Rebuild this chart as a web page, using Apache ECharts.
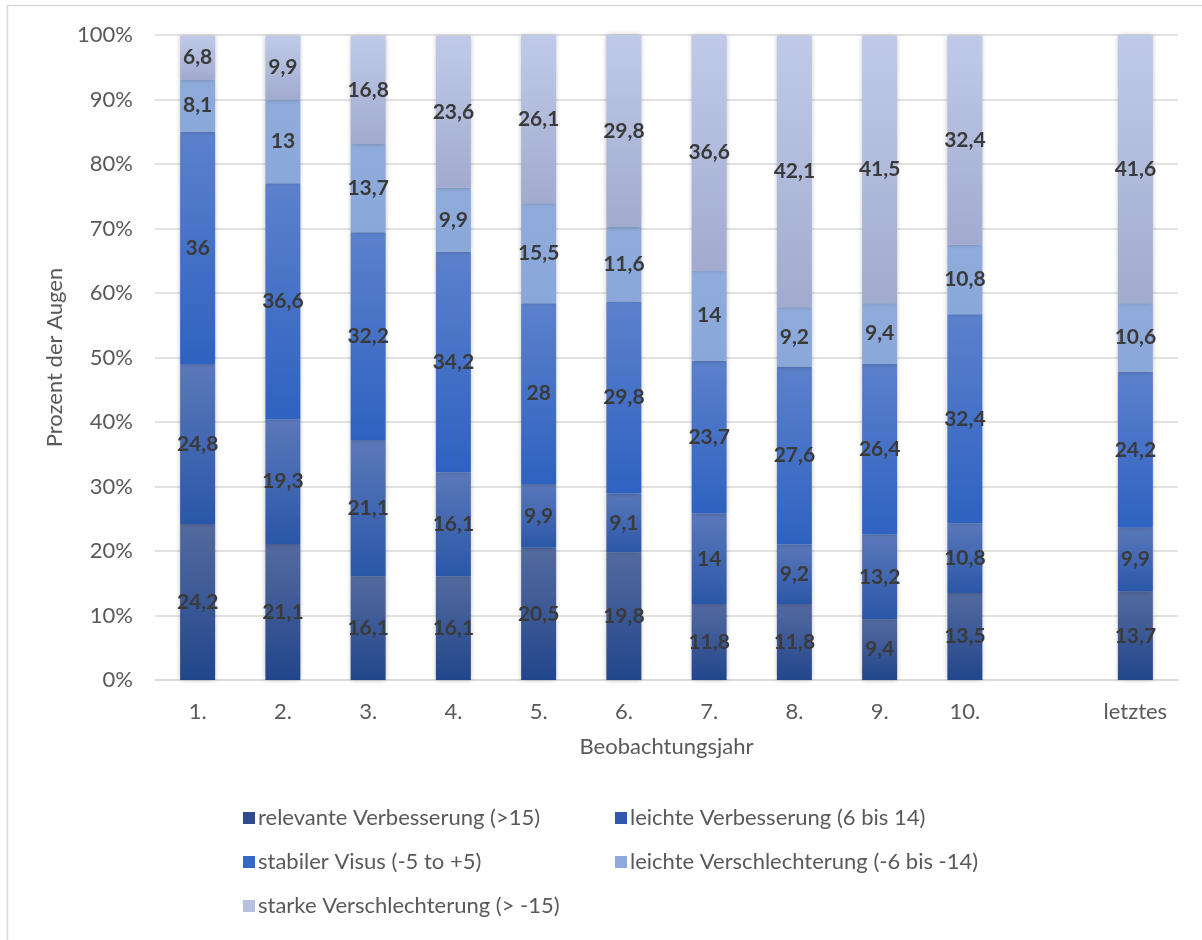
<!DOCTYPE html>
<html>
<head>
<meta charset="utf-8">
<script src="https://cdn.jsdelivr.net/npm/echarts@6/dist/echarts.min.js"></script>
<style>
  html, body { margin: 0; padding: 0; background: #fff; }
  #chart { width: 1202px; height: 940px; }
</style>
</head>
<body>
<div id="chart"></div>
<script>
// Beobachtungsjahre (leere Kategorie trennt "10." von "letztes")
const categories = ['1.', '2.', '3.', '4.', '5.', '6.', '7.', '8.', '9.', '10.', '', 'letztes'];

// Anteile der Augen je Visuskategorie in Prozent
const relevanteVerbesserung   = [24.2, 21.1, 16.1, 16.1, 20.5, 19.8, 11.8, 11.8, 9.4, 13.5, null, 13.7];
const leichteVerbesserung     = [24.8, 19.3, 21.1, 16.1, 9.9, 9.1, 14, 9.2, 13.2, 10.8, null, 9.9];
const stabilerVisus           = [36, 36.6, 32.2, 34.2, 28, 29.8, 23.7, 27.6, 26.4, 32.4, null, 24.2];
const leichteVerschlechterung = [8.1, 13, 13.7, 9.9, 15.5, 11.6, 14, 9.2, 9.4, 10.8, null, 10.6];
const starkeVerschlechterung  = [6.8, 9.9, 16.8, 23.6, 26.1, 29.8, 36.6, 42.1, 41.5, 32.4, null, 41.6];

const seriesNames = [
  'relevante Verbesserung (>15)',
  'leichte Verbesserung (6 bis 14)',
  'stabiler Visus (-5 to +5)',
  'leichte Verschlechterung (-6 bis -14)',
  'starke Verschlechterung (> -15)'
];
const seriesData = [relevanteVerbesserung, leichteVerbesserung, stabilerVisus, leichteVerschlechterung, starkeVerschlechterung];

// Verlauf oben -> unten je Segment
const gradients = [
  ['#546a9f', '#22468c'],
  ['#5b78ba', '#2a57a8'],
  ['#5c81cc', '#2e62c1'],
  ['#90acdc', '#8aa7da'],
  ['#c0cae8', '#a2abcf']
];
const legendColors = ['#2f4b8c', '#3059ad', '#3566c8', '#8eaadc', '#b6c0e0'];

const FONT = 'Lato';
const TEXT_SIZE = 22;

function grad(c) {
  return new echarts.graphic.LinearGradient(0, 0, 0, 1, [
    { offset: 0, color: c[0] },
    { offset: 1, color: c[1] }
  ]);
}

const series = seriesData.map((d, i) => ({
  name: seriesNames[i],
  type: 'bar',
  stack: 'gesamt',
  barWidth: 35,
  data: d,
  itemStyle: {
    color: grad(gradients[i]),
    shadowColor: 'rgba(0,0,0,0.28)',
    shadowBlur: 5
  },
  label: {
    show: true,
    position: 'inside',
    fontFamily: FONT,
    fontWeight: 'bold',
    fontSize: 21,
    color: '#3a3a3a',
    formatter: p => (p.value == null ? '' : String(p.value).replace('.', ','))
  },
  emphasis: { disabled: true }
}));

// Legende: zwei Spalten, drei Zeilen
const legendPos = [
  { left: 238, top: 802 },
  { left: 610, top: 802 },
  { left: 238, top: 846 },
  { left: 610, top: 846 },
  { left: 238, top: 890 }
];
const legends = seriesNames.map((n, i) => ({
  left: legendPos[i].left,
  top: legendPos[i].top,
  data: [{ name: n, itemStyle: { color: legendColors[i] } }],
  icon: 'rect',
  itemWidth: 12,
  itemHeight: 12,
  itemGap: 4,
  selectedMode: false,
  textStyle: { fontFamily: FONT, fontSize: TEXT_SIZE, color: '#595959', padding: [0, 0, 0, -2] }
}));

const chart = echarts.init(document.getElementById('chart'), null, { renderer: 'canvas' });
chart.setOption({
  animation: false,
  backgroundColor: '#fff',
  graphic: [{
    type: 'rect',
    shape: { x: 7.5, y: 5.5, width: 1300, height: 1000 },
    style: { fill: 'none', stroke: '#d9d9d9', lineWidth: 1.5 },
    silent: true,
    z: -10
  }],
  grid: { left: 155, right: 24, top: 35, bottom: 260 },
  legend: legends,
  xAxis: {
    type: 'category',
    data: categories,
    name: 'Beobachtungsjahr',
    nameLocation: 'middle',
    nameGap: 56,
    nameTextStyle: { fontFamily: FONT, fontSize: TEXT_SIZE, color: '#595959' },
    axisLine: { lineStyle: { color: '#d9d9d9', width: 1.5 } },
    axisTick: { show: false },
    axisLabel: { fontFamily: FONT, fontSize: TEXT_SIZE, color: '#595959', margin: 21, interval: 0 }
  },
  yAxis: {
    type: 'value',
    min: 0,
    max: 100,
    interval: 10,
    name: 'Prozent der Augen',
    nameLocation: 'middle',
    nameGap: 86,
    nameTextStyle: { fontFamily: FONT, fontSize: TEXT_SIZE, color: '#595959' },
    axisLine: { show: false },
    axisTick: { show: false },
    splitLine: { lineStyle: { color: '#d9d9d9', width: 1.5 } },
    axisLabel: { fontFamily: FONT, fontSize: TEXT_SIZE, color: '#595959', margin: 22, formatter: v => v + '%' }
  },
  series: series
});
</script>
</body>
</html>
